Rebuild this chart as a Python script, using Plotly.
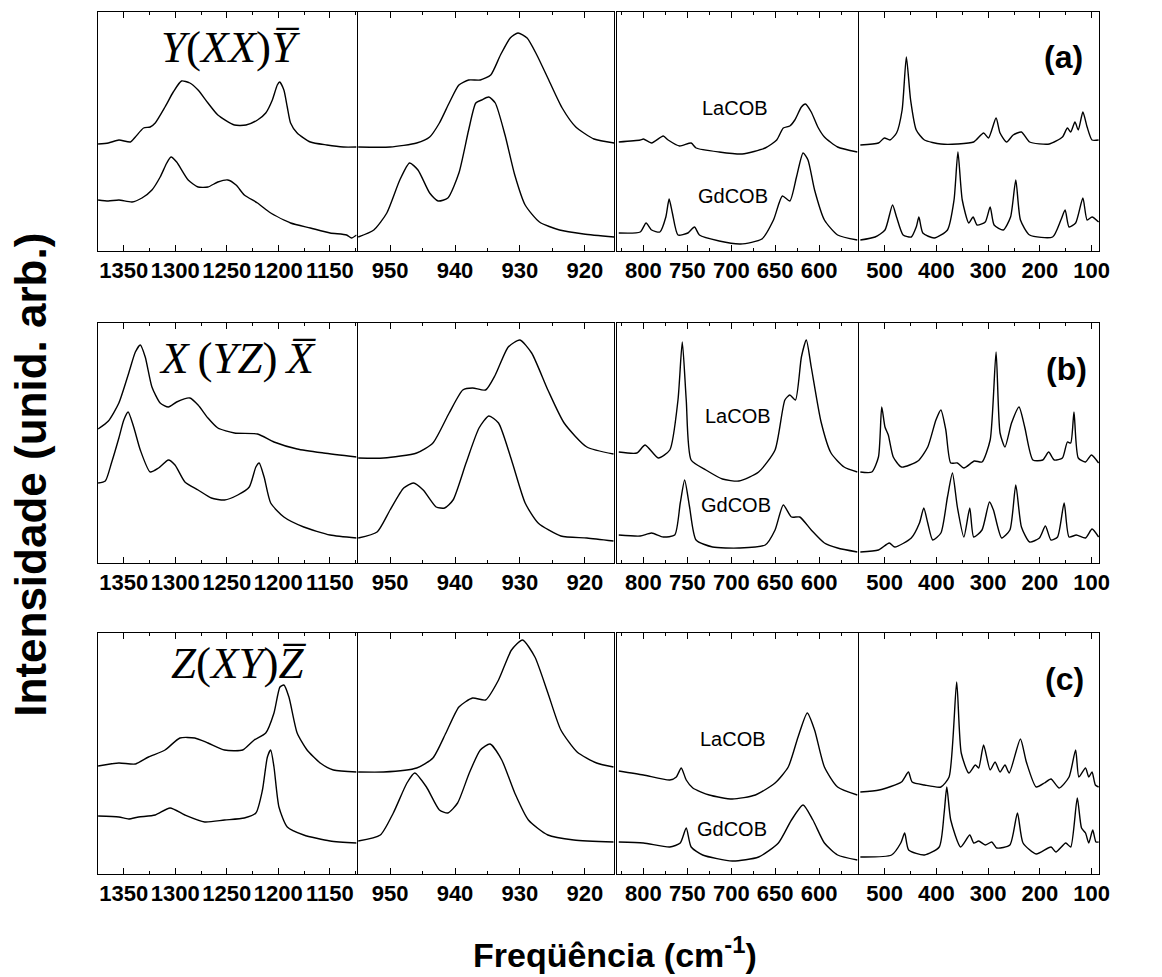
import plotly.graph_objects as go

# ---------------- data (y = arbitrary intensity units) ----------------
# Row (a)  Y(XX)Y
a1_la_x = [1375, 1365, 1354.8, 1343.6, 1338.8, 1330.8, 1324.4, 1319.5, 1310, 1302, 1294, 1285.9, 1277.9, 1268.3, 1258.7, 1242.6, 1231.4, 1220.2, 1212.2, 1205.8, 1201, 1198.7, 1194.6, 1191.3, 1188.1, 1181.7, 1168.9, 1152.9, 1136.9, 1124]
a1_la_y = [107, 108, 111, 109, 114, 123, 124, 128, 144, 159, 170, 168, 161, 148, 136, 126, 126, 131, 138, 151, 166, 169, 161, 144, 128, 118, 109, 106, 104, 104]
a1_gd_x = [1375, 1365, 1354.8, 1342, 1332.4, 1322.7, 1314.7, 1308.3, 1304.2, 1298.7, 1287.5, 1277.9, 1268.3, 1258.7, 1249, 1241, 1233, 1220.2, 1207.4, 1188.1, 1168.9, 1149.7, 1133.7, 1128.9, 1124]
a1_gd_y = [51, 50, 51, 49, 53, 61, 74, 88, 94, 89, 71, 64, 64, 69, 71, 66, 56, 48, 38, 28, 23, 18, 16, 13, 16]
a2_la_x = [954.9, 950, 945.9, 943.9, 942.4, 940.9, 939.4, 937.9, 936.1, 934.5, 933, 931.5, 930.3, 928.9, 927.4, 925.5, 923.5, 921.4, 918.6, 915.5]
a2_la_y = [104, 104, 108, 114, 128, 148, 166, 171, 171, 176, 196, 213, 218, 213, 196, 170, 143, 124, 112, 108]
a2_gd_x = [954.9, 952.5, 950.5, 948.5, 947, 945.7, 943.9, 942.6, 941.1, 939.4, 937.9, 936.8, 935.9, 934.8, 933.8, 932.3, 930.8, 929.2, 927, 923.9, 920.2, 915.5]
a2_gd_y = [14, 21, 38, 71, 88, 81, 58, 50, 53, 78, 121, 148, 151, 154, 148, 116, 76, 46, 29, 21, 17, 14]
a3_la_x = [828.1, 803.7, 800, 790.7, 777.5, 771.9, 758.8, 745.7, 740.1, 713.8, 687.6, 661.4, 648.3, 640.8, 633.4, 627.7, 620.2, 615.7, 609, 601.5, 594, 579, 556.5]
a3_la_y = [109, 111, 112, 108, 115, 111, 105, 108, 103, 99, 97, 103, 111, 123, 125, 131, 144, 147, 139, 124, 114, 104, 99]
a3_gd_x = [828.1, 803.7, 797, 790.7, 781.3, 774.5, 770.8, 767.1, 760.7, 749.4, 741.9, 736.3, 713.8, 689.5, 665.2, 652, 641.9, 633.4, 625.8, 618.3, 612.7, 605.2, 594, 579, 556.5]
a3_gd_y = [18, 19, 28, 21, 19, 34, 52, 38, 16, 18, 24, 16, 10, 7, 12, 31, 55, 50, 74, 98, 91, 61, 31, 16, 11]
a4_la_x = [547, 512, 500.6, 489.9, 477.1, 466.3, 458.1, 449.9, 439, 423.2, 391.4, 359.6, 328, 308.9, 299.4, 284.8, 277.1, 264.4, 251.8, 235.8, 220, 181.9, 156.6, 147, 140.6, 132.4, 126, 117.1, 108.9, 99.4, 86.7]
a4_la_y = [106, 108, 113, 111, 118, 141, 194, 151, 121, 111, 107, 107, 109, 118, 113, 133, 118, 109, 116, 119, 109, 107, 114, 123, 119, 129, 121, 139, 124, 111, 111]
a4_gd_x = [547, 518.5, 499.4, 484.8, 477.1, 464.4, 448.6, 439, 433.9, 426.3, 404.2, 378.7, 366, 358.5, 350.1, 337.5, 329.1, 321.5, 305.7, 296.2, 288.6, 270.9, 256.8, 246.7, 237.7, 220, 175.6, 159.6, 151.4, 143.8, 131.1, 117.1, 108.9, 99.4, 86.7]
a4_gd_y = [11, 14, 21, 46, 34, 16, 14, 24, 34, 18, 13, 21, 51, 99, 51, 28, 34, 26, 29, 44, 26, 21, 34, 71, 31, 16, 14, 31, 41, 24, 28, 53, 31, 34, 29]

# Row (b)  X(YZ)X
b1_la_x = [1375, 1365, 1354.8, 1345.2, 1338.8, 1334, 1329.2, 1322.7, 1314.7, 1306.7, 1298.7, 1285.9, 1277.9, 1268.3, 1258.7, 1242.6, 1220.2, 1204.2, 1181.7, 1156.1, 1124]
b1_la_y = [134, 142, 160, 190, 211, 218, 206, 176, 160, 156, 161, 165, 158, 145, 135, 130, 129, 121, 114, 110, 106]
b1_gd_x = [1375, 1368, 1362, 1354.8, 1350, 1345.8, 1340.4, 1334, 1324.4, 1316.3, 1306.7, 1300.3, 1290.7, 1277.9, 1265, 1252.2, 1239.4, 1228.2, 1221.8, 1218.6, 1213.8, 1207.4, 1194.6, 1175.3, 1149.7, 1124]
b1_gd_y = [80, 82, 100, 125, 143, 151, 136, 113, 91, 95, 103, 98, 81, 73, 65, 63, 68, 76, 96, 100, 86, 60, 46, 36, 28, 25]
b2_la_x = [954.9, 951, 945.9, 943.4, 940.9, 938.8, 937.3, 935.3, 933.8, 931.8, 930, 928.2, 925.7, 923.2, 919.7, 915.6]
b2_la_y = [105, 105, 110, 120, 150, 173, 175, 173, 188, 216, 223, 210, 173, 140, 116, 109]
b2_gd_x = [954.9, 952, 950, 947.9, 946.4, 944.9, 942.9, 941.6, 940.3, 938.3, 936.3, 934.8, 933.3, 931.3, 929.2, 927.2, 923.7, 919.7, 915.6]
b2_gd_y = [25, 31, 53, 75, 80, 73, 56, 55, 63, 100, 135, 147, 140, 103, 60, 40, 27, 25, 22]
b3_la_x = [828.1, 807.5, 798.1, 783.1, 770, 760.7, 755.8, 751.3, 745.7, 728.9, 710.1, 691.3, 668.9, 650.2, 639, 633.4, 627, 620.2, 614.6, 609, 597.8, 586.5, 571.6, 556.5]
b3_la_y = [111, 110, 118, 105, 113, 163, 221, 163, 103, 93, 84, 82, 91, 113, 163, 168, 163, 206, 223, 196, 141, 110, 96, 91]
b3_gd_x = [828.1, 803.7, 790.7, 777.5, 764.4, 758.1, 753.1, 747.5, 740.1, 721.3, 691.3, 661.4, 650.2, 640.8, 631.5, 622.1, 609, 594, 579, 556.5]
b3_gd_y = [28, 27, 30, 26, 28, 60, 83, 56, 23, 16, 15, 18, 33, 58, 46, 46, 33, 20, 15, 11]
b4_la_x = [547, 524.8, 512, 505.7, 499.4, 493, 483.4, 467.6, 435.8, 416.8, 401, 391.4, 381.9, 372.4, 359.6, 347, 326.7, 312, 296.2, 284.8, 277.1, 267.6, 254.9, 240.4, 229.5, 213.7, 194.7, 183.2, 172.4, 156.6, 147, 140.6, 134.3, 126, 112, 100.6, 86.7]
b4_la_y = [91, 91, 106, 156, 136, 128, 106, 96, 102, 116, 143, 153, 133, 100, 100, 95, 102, 101, 123, 211, 130, 116, 140, 156, 136, 103, 103, 111, 103, 105, 121, 120, 151, 105, 101, 108, 100]
b4_gd_x = [547, 512, 491.1, 480.4, 448.6, 432.8, 424.4, 416.8, 407.2, 391.4, 378.7, 369.1, 359.6, 347, 335.6, 328, 312, 297.5, 289.9, 274, 258.1, 246.7, 235.8, 220, 201, 189.5, 178.7, 166, 153.3, 143.8, 129.8, 112, 99.4, 86.7]
b4_gd_y = [11, 13, 20, 16, 25, 40, 55, 40, 23, 30, 66, 90, 56, 26, 55, 26, 33, 61, 53, 25, 33, 78, 36, 21, 25, 37, 23, 26, 60, 26, 28, 25, 34, 26]

# Row (c)  Z(XY)Z
c1_la_x = [1375, 1354.8, 1338.8, 1326, 1310, 1295.5, 1281.1, 1268.3, 1252.2, 1234.6, 1223.4, 1212.2, 1204.2, 1198.4, 1194.6, 1189.7, 1181.7, 1172.1, 1159.3, 1146.5, 1124]
c1_la_y = [108, 111, 110, 117, 124, 136, 136, 131, 124, 124, 134, 141, 161, 187, 189, 177, 141, 124, 111, 104, 102]
c1_gd_x = [1375, 1354.8, 1345.2, 1335.6, 1319.5, 1305.1, 1290.7, 1271.5, 1252.2, 1233, 1221.8, 1215.4, 1210.6, 1207.4, 1204.2, 1199.4, 1191.3, 1175.3, 1149.7, 1124]
c1_gd_y = [58, 57, 55, 57, 59, 66, 59, 52, 54, 56, 61, 84, 117, 124, 107, 67, 47, 39, 33, 31]
c2_la_x = [954.9, 951, 945.9, 943.4, 941.4, 939.4, 937.3, 935.3, 933.3, 931.3, 929.6, 927.7, 925.7, 923.7, 921.2, 918.2, 915.6]
c2_la_y = [102, 102, 106, 116, 141, 167, 176, 174, 194, 224, 234, 217, 181, 144, 122, 111, 107]
c2_gd_x = [954.9, 951.5, 949.5, 947.4, 946.2, 944.4, 942.4, 941.1, 939.6, 937.8, 936.1, 934.6, 932.8, 930.8, 928.7, 925.7, 921.7, 915.6]
c2_gd_y = [33, 39, 61, 91, 101, 87, 64, 61, 71, 101, 124, 130, 114, 81, 54, 39, 34, 32]
c3_la_x = [828.1, 800, 770, 762.6, 757, 751.3, 743.8, 725.1, 698.9, 672.6, 650.2, 635.2, 624, 613.5, 605.2, 594, 579, 556.5]
c3_la_y = [103, 99, 94, 97, 106, 94, 86, 79, 75, 79, 91, 107, 137, 161, 144, 107, 87, 79]
c3_gd_x = [828.1, 800, 770, 758.1, 751.3, 745.7, 732.6, 698.9, 668.9, 646.4, 631.5, 618.3, 607.1, 594, 579, 556.5]
c3_gd_y = [32, 31, 27, 31, 46, 27, 19, 13, 17, 31, 54, 69, 54, 31, 19, 14]
c4_la_x = [547, 510.6, 467.6, 454.1, 446.9, 423.2, 391.4, 375.6, 360.9, 352.1, 337.5, 324.8, 318.4, 308.9, 296.2, 286.7, 277.1, 267.6, 259.4, 237.8, 226.3, 207.3, 191.4, 178.7, 162.8, 143.8, 131.1, 124.8, 112, 105.7, 99.4, 93, 86.7]
c4_la_y = [82, 84, 92, 102, 92, 89, 87, 97, 192, 121, 101, 109, 106, 129, 104, 112, 102, 109, 101, 135, 112, 87, 91, 95, 86, 97, 124, 97, 106, 97, 102, 89, 87]
c4_gd_x = [547, 486.7, 468.9, 461.3, 453.7, 423.2, 394.6, 385.1, 380, 372.4, 353.3, 335.6, 328, 318.4, 305.7, 293, 283.5, 258.1, 243.5, 232.7, 207.3, 178.7, 169.2, 150.2, 140.6, 127.9, 119.7, 112, 105.7, 98.1, 91.8, 86.7]
c4_gd_y = [17, 19, 31, 41, 24, 19, 27, 61, 87, 54, 27, 39, 31, 33, 29, 32, 26, 29, 61, 31, 20, 27, 22, 31, 27, 76, 46, 41, 31, 44, 32, 32]

# axis segments (wavenumber ranges, reversed) and tick steps
x_ranges = [[1375, 1124], [955, 915.5], [830, 556], [550, 85]]
x_dticks = [50, 10, 50, 100]
y_ranges = [[0, 239], [0, 240], [0, 241]]

row_labels = ["(a)", "(b)", "(c)"]
geometry_labels = ["<i>Y</i>(<i>XX</i>)<i>Y\u0305</i>",
                   "<i>X</i>\u2009(<i>YZ</i>)\u2009<i>X\u0305</i>",
                   "<i>Z</i>(<i>XY</i>)<i>Z\u0305</i>"]
sample_names = ["LaCOB", "GdCOB"]
x_title = "Freqüência (cm<sup>-1</sup>)"
y_title = "Intensidade (unid. arb.)"

series = {
    (0, 0): (a1_la_x, a1_la_y, a1_gd_x, a1_gd_y), (0, 1): (a2_la_x, a2_la_y, a2_gd_x, a2_gd_y),
    (0, 2): (a3_la_x, a3_la_y, a3_gd_x, a3_gd_y), (0, 3): (a4_la_x, a4_la_y, a4_gd_x, a4_gd_y),
    (1, 0): (b1_la_x, b1_la_y, b1_gd_x, b1_gd_y), (1, 1): (b2_la_x, b2_la_y, b2_gd_x, b2_gd_y),
    (1, 2): (b3_la_x, b3_la_y, b3_gd_x, b3_gd_y), (1, 3): (b4_la_x, b4_la_y, b4_gd_x, b4_gd_y),
    (2, 0): (c1_la_x, c1_la_y, c1_gd_x, c1_gd_y), (2, 1): (c2_la_x, c2_la_y, c2_gd_x, c2_gd_y),
    (2, 2): (c3_la_x, c3_la_y, c3_gd_x, c3_gd_y), (2, 3): (c4_la_x, c4_la_y, c4_gd_x, c4_gd_y),
}

# ---------------- layout geometry (pixels of the 1162x977 page) ----------------
W, H = 1162, 977
LW = 1
col_px = [(99, 360), (361, 620), (623, 866), (867, 1110)]
row_px = [(12, 251), (323, 563), (633, 874)]

SANS = "Liberation Sans, Arial, sans-serif"
SERIF = "Liberation Serif, Times New Roman, serif"

fig = go.Figure()
layout = dict(width=W, height=H, margin=dict(l=0, r=0, t=0, b=0),
              paper_bgcolor="white", plot_bgcolor="white", showlegend=False)

n = 0
for r in range(3):
    for c in range(4):
        n += 1
        xa = "x" if n == 1 else f"x{n}"
        ya = "y" if n == 1 else f"y{n}"
        x0, x1 = col_px[c]
        y0, y1 = row_px[r]
        layout["xaxis" if n == 1 else f"xaxis{n}"] = dict(
            domain=[x0 / W, x1 / W], range=x_ranges[c], anchor=ya,
            showline=True, linecolor="black", linewidth=LW, mirror="ticks",
            ticks="inside", ticklen=6, tickwidth=1, tickcolor="black",
            tickmode="linear", tick0=0, dtick=x_dticks[c],
            minor=dict(ticks="inside", ticklen=3, tickwidth=1, tickcolor="black",
                       dtick=x_dticks[c] / 2, tick0=0, showgrid=False),
            showgrid=False, zeroline=False,
            tickfont=dict(family=SANS, size=22, color="black", weight="bold"),
            ticklabelstandoff=0,
        )
        layout["yaxis" if n == 1 else f"yaxis{n}"] = dict(
            domain=[1 - y1 / H, 1 - y0 / H], range=y_ranges[r], anchor=xa,
            showline=True, linecolor="black", linewidth=LW, mirror=True,
            ticks="", showticklabels=False, showgrid=False, zeroline=False,
        )
        la_x, la_y, gd_x, gd_y = series[(r, c)]
        for xs, ys in ((la_x, la_y), (gd_x, gd_y)):
            fig.add_trace(go.Scatter(x=xs, y=ys, mode="lines", xaxis=xa, yaxis=ya,
                                     line=dict(color="black", width=1.4, shape="spline", smoothing=0.6),
                                     hoverinfo="skip"))

ann = []
def P(px, py):
    return px / W, 1 - py / H

geo_pos = [(233, 47), (240, 358), (241, 663)]
lbl_pos = [(1074, 57), (1077, 369), (1075, 679)]
la_pos = [(742, 108), (745, 416), (740, 739)]
gd_pos = [(740, 196), (743, 505), (739, 829)]
for r in range(3):
    x, y = P(*geo_pos[r])
    ann.append(dict(x=x, y=y, xref="paper", yref="paper", text=geometry_labels[r], showarrow=False,
                    xanchor="center", yanchor="middle", font=dict(family=SERIF, size=45, color="black")))
    x, y = P(*lbl_pos[r])
    ann.append(dict(x=x, y=y, xref="paper", yref="paper", text=row_labels[r], showarrow=False,
                    xanchor="center", yanchor="middle", font=dict(family=SANS, size=32, color="black", weight="bold")))
    x, y = P(*la_pos[r])
    ann.append(dict(x=x, y=y, xref="paper", yref="paper", text=sample_names[0], showarrow=False,
                    xanchor="center", yanchor="middle", font=dict(family=SANS, size=20, color="black")))
    x, y = P(*gd_pos[r])
    ann.append(dict(x=x, y=y, xref="paper", yref="paper", text=sample_names[1], showarrow=False,
                    xanchor="center", yanchor="middle", font=dict(family=SANS, size=20, color="black")))

x, y = P(621, 952)
ann.append(dict(x=x, y=y, xref="paper", yref="paper", text=x_title, showarrow=False,
                xanchor="center", yanchor="middle", font=dict(family=SANS, size=34, color="black", weight="bold")))
x, y = P(30, 475)
ann.append(dict(x=x, y=y, xref="paper", yref="paper", text=y_title, showarrow=False, textangle=-90,
                xanchor="center", yanchor="middle", font=dict(family=SANS, size=44, color="black", weight="bold")))
layout["annotations"] = ann

fig.update_layout(**layout)
fig.write_html("out.html")
